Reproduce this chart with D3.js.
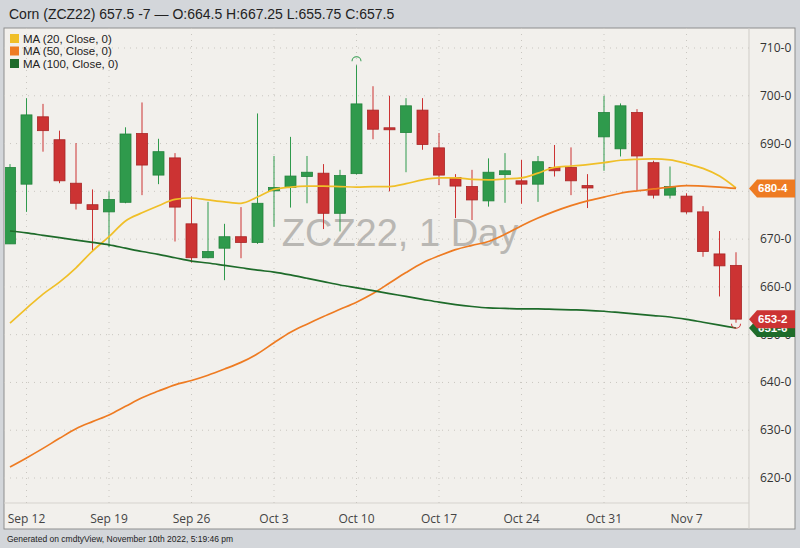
<!DOCTYPE html>
<html lang="en">
<head>
<meta charset="utf-8">
<title>Corn ZCZ22</title>
<script src="https://cdn.jsdelivr.net/npm/d3@7"></script>
<style>
  body { margin: 0; background: #d3d6da; }
  text { font-family: "Liberation Sans", Arial, sans-serif; }
</style>
</head>
<body>
<svg width="800" height="548"></svg>
<script>
// trading days Sep 9 .. Nov 10 2022
var dates = ["09-09","09-12","09-13","09-14","09-15","09-16","09-19","09-20","09-21","09-22","09-23",
  "09-26","09-27","09-28","09-29","09-30","10-03","10-04","10-05","10-06","10-07",
  "10-10","10-11","10-12","10-13","10-14","10-17","10-18","10-19","10-20","10-21",
  "10-24","10-25","10-26","10-27","10-28","10-31","11-01","11-02","11-03","11-04",
  "11-07","11-08","11-09","11-10"];
var open  = [669,681.5,695.6,690.8,681.7,677.2,675.7,677.7,692.1,683.4,687,673.2,666.1,668.1,670.5,669.3,680.1,680.8,683.1,683.8,675.4,683.7,697,693.3,692.3,697,689.1,682.9,681,678,683.5,682.2,681.5,685,685,681.2,691.4,688.9,696.5,686,679.2,679,675.7,666.9,664.5];
var high  = [685.7,699.5,698.3,692.7,690.1,680.4,680,693.4,698.6,691,688,678.9,677.8,673.2,676.7,696.3,687.4,691.4,687.4,685.7,684.5,706.4,702,700,699.5,699.5,692.2,683.6,684.5,686.9,688,686.6,687.4,689.7,689.2,683.6,700,698.4,697.2,686.4,685.2,679.6,676.9,671.7,667.25];
var low   = [669,675.7,688.3,681.7,676.2,667.6,668.3,677.5,679.2,681.5,669.5,665.1,666,661.4,666,669,672.6,676.6,677.5,672.1,671.6,683.5,690.9,680,684,688.7,681.3,674.4,674,676.8,677.6,677.4,677.8,683.1,679.2,676.5,684.3,687.3,680.1,678.5,678.5,675.3,666.3,658,652.5];
var close = [685,696,692.7,682.2,677.5,676.2,678.3,692,685.5,688.3,676.7,666.1,667.4,670.5,669.3,677.5,680.8,683.2,684,675.4,683.3,698.3,693,693,697.9,689.8,683.4,681.1,678.2,684,684.3,681.5,686.2,684.3,682.2,680.7,696.5,697.9,687.4,679.2,681,675.7,667.4,664.4,653.25];
var ma20  = [652.4,655.5,658.5,661,664,667.5,670.5,673.8,675.5,677,678.3,678.6,678.2,677.8,677.5,678.8,680.4,680.9,681.1,681.1,681,680.9,681,681,681.6,682.4,682.8,682.8,682.5,682.4,682.6,682.8,683.8,685,685.3,685.6,686,686.5,686.7,686.8,686.6,685.8,684.8,683.2,680.7];
var ma50  = [622.3,624.2,626.2,628.3,630.3,631.8,633.2,635,636.8,638.2,639.5,640.4,641.5,642.8,644.2,646,648.3,650.5,652.2,653.8,655.3,656.8,658.6,660.8,663,665,666.5,667.8,668.7,669.5,671,672.8,674.4,675.8,677,678,678.8,679.6,680.1,680.5,680.9,681.2,681.1,680.9,680.6];
var ma100 = [671.7,671.3,670.8,670.3,669.8,669.3,668.8,668.1,667.4,666.8,666.1,665.4,665,664.5,664,663.5,663.1,662.5,661.8,661.1,660.4,659.8,659.2,658.6,658,657.4,656.8,656.3,655.9,655.6,655.5,655.4,655.4,655.3,655.2,655.1,654.9,654.6,654.3,654,653.7,653.2,652.6,652,651.4];
var tickDates  = ["09-12","09-19","09-26","10-03","10-10","10-17","10-24","10-31","11-07"];
var tickLabels = ["Sep 12","Sep 19","Sep 26","Oct 3","Oct 10","Oct 17","Oct 24","Oct 31","Nov 7"];
var priceTicks = [620,630,640,650,660,670,680,690,700,710];

var svg = d3.select("svg");
var pLeft = 4, pRight = 749, pTop = 28, pBottom = 503;

var x = d3.scaleLinear().domain([0, dates.length - 1]).range([10, 736]);
var y = d3.scaleLinear().domain([620, 710]).range([478, 48]);
var bw = 11;

// panel
svg.append("rect").attr("x", pLeft).attr("y", pTop).attr("width", 795 - pLeft).attr("height", 529 - pTop)
  .attr("fill", "#f2f0ec").attr("stroke", "#8e8e8e");
svg.append("line").attr("x1", pRight).attr("x2", pRight).attr("y1", pTop).attr("y2", 529).attr("stroke", "#cfccc7");
svg.append("line").attr("x1", pLeft).attr("x2", pRight).attr("y1", pBottom).attr("y2", pBottom).attr("stroke", "#d6d3ce");

// header / footer
svg.append("text").attr("x", 9).attr("y", 19).attr("font-size", 14).attr("fill", "#222")
  .text("Corn (ZCZ22) 657.5 -7 \u2014 O:664.5 H:667.25 L:655.75 C:657.5");
svg.append("text").attr("x", 7).attr("y", 542).attr("font-size", 8.5).attr("fill", "#222")
  .text("Generated on cmdtyView, November 10th 2022, 5:19:46 pm");

svg.append("clipPath").attr("id", "clip").append("rect")
  .attr("x", pLeft + 1).attr("y", pTop + 1).attr("width", pRight - pLeft - 1).attr("height", pBottom - pTop - 1);

// grid
svg.selectAll(".hg").data(priceTicks).enter().append("line")
  .attr("x1", pLeft).attr("x2", pRight).attr("y1", d => y(d)).attr("y2", d => y(d))
  .attr("stroke", "#c9c6c0").attr("stroke-dasharray", "1,5");
svg.selectAll(".vg").data(tickDates).enter().append("line")
  .attr("x1", d => x(dates.indexOf(d))).attr("x2", d => x(dates.indexOf(d)))
  .attr("y1", pTop).attr("y2", pBottom + 4)
  .attr("stroke", "#c9c6c0").attr("stroke-dasharray", "1,5");

// watermark
svg.append("text").attr("x", 400).attr("y", 246).attr("text-anchor", "middle")
  .attr("font-size", 38).attr("fill", "#b9b7b3").text("ZCZ22, 1 Day");

// axes labels
svg.selectAll(".xl").data(tickDates).enter().append("text")
  .attr("x", d => x(dates.indexOf(d))).attr("y", 523).attr("text-anchor", "middle")
  .attr("font-size", 12).attr("fill", "#444")
  .style("font-family", "'Open Sans', sans-serif")
  .text((d, i) => tickLabels[i]);
svg.selectAll(".yl").data(priceTicks).enter().append("text")
  .attr("x", 760).attr("y", d => y(d) + 4).attr("font-size", 12).attr("fill", "#333")
  .style("font-family", "'Open Sans', sans-serif")
  .text(d => d + "-0");

var g = svg.append("g").attr("clip-path", "url(#clip)");

// candles
var idx = d3.range(dates.length);
var up = i => close[i] >= open[i];
g.selectAll(".wick").data(idx).enter().append("line")
  .attr("x1", i => x(i)).attr("x2", i => x(i))
  .attr("y1", i => y(high[i])).attr("y2", i => y(low[i]))
  .attr("stroke", i => up(i) ? "#2f9a4c" : "#cc3333").attr("stroke-width", 1);
g.selectAll(".body").data(idx).enter().append("rect")
  .attr("x", i => x(i) - bw / 2).attr("width", bw)
  .attr("y", i => y(Math.max(open[i], close[i])))
  .attr("height", i => Math.max(2, Math.abs(y(open[i]) - y(close[i]))))
  .attr("fill", i => up(i) ? "#2f9a4c" : "#cc3333")
  .attr("stroke", i => up(i) ? "#23833c" : "#a82626").attr("stroke-width", 0.8);

// moving averages
var line = d3.line().x((d, i) => x(i)).y(d => y(d)).curve(d3.curveMonotoneX);
[[ma20, "#f0bf28"], [ma50, "#ee7b22"], [ma100, "#1e6b2a"]].forEach(function (s) {
  g.append("path").datum(s[0]).attr("d", line).attr("fill", "none")
    .attr("stroke", s[1]).attr("stroke-width", 1.7);
});

// high / low markers
var hi = d3.maxIndex(high), lo = d3.minIndex(low);
svg.append("path").attr("transform", "translate(" + x(hi) + "," + (y(high[hi]) - 4) + ")")
  .attr("d", d3.arc()({innerRadius: 4, outerRadius: 5, startAngle: -Math.PI / 2, endAngle: Math.PI / 2}))
  .attr("fill", "#2f9a4c");
svg.append("path").attr("transform", "translate(" + x(lo) + "," + (y(low[lo]) + 1) + ")")
  .attr("d", d3.arc()({innerRadius: 4, outerRadius: 5, startAngle: Math.PI / 2, endAngle: Math.PI * 1.5}))
  .attr("fill", "#cc3333");

// legend
var legend = [["MA (20, Close, 0)", "#f0bf28"], ["MA (50, Close, 0)", "#ee7b22"], ["MA (100, Close, 0)", "#1e6b2a"]];
legend.forEach(function (l, i) {
  svg.append("rect").attr("x", 10).attr("y", 34 + i * 12.5).attr("width", 9).attr("height", 9)
    .attr("fill", l[1]);
  svg.append("text").attr("x", 23).attr("y", 42.5 + i * 12.5).attr("font-size", 11.5).attr("fill", "#222").text(l[0]);
});

// price tags
function tag(v, label, color) {
  var ty = y(v);
  svg.append("path").attr("d", "M" + pRight + "," + ty + "l8,-9h38v18h-38z").attr("fill", color);
  svg.append("text").attr("x", 758).attr("y", ty + 4).attr("font-size", 11.5).attr("font-weight", "bold")
    .attr("fill", "#fff").text(label);
}
tag(ma100[ma100.length - 1], "651-6", "#1e6b2a");
tag(close[close.length - 1], "653-2", "#cc3333");
tag(ma50[ma50.length - 1], "680-4", "#ee7b22");
</script>
</body>
</html>
